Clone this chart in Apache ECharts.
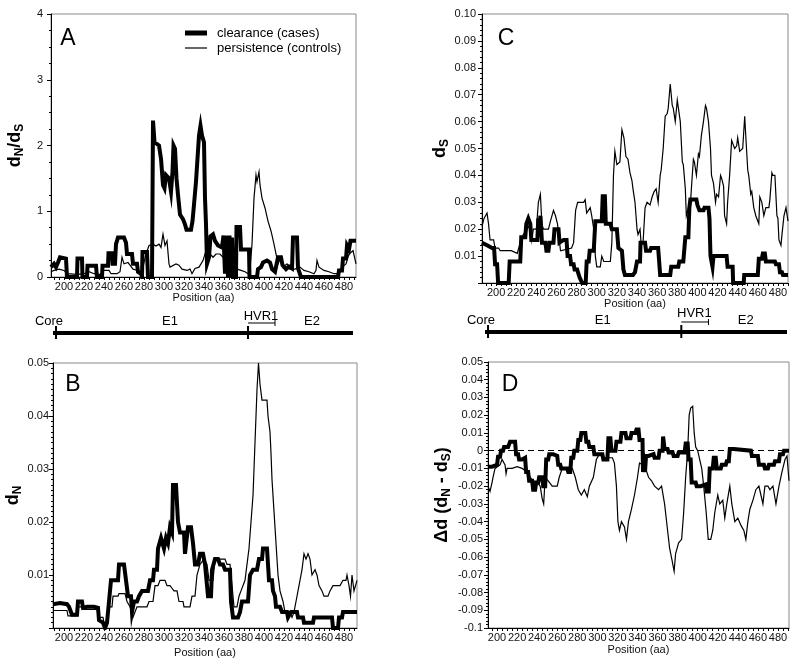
<!DOCTYPE html>
<html><head><meta charset="utf-8">
<script src="https://cdn.jsdelivr.net/npm/echarts/dist/echarts.min.js"></script>
<style>html,body{margin:0;padding:0;background:#fff}#c{width:800px;height:666px}</style>
</head><body><div id="c"></div>
<script>
// ---------- DATA (position aa, value) ----------
const aClearance = [[187,0.15],[190,0.2],[192,0.15],[194,0.22],[196,0.3],[202,0.28],[203,0],[213,0],[213.5,0.28],[218,0.28],[218.5,0],[223,0],[223.5,0.17],[232,0.17],[233,0],[238,0],[238.5,0.17],[244,0.17],[244.5,0.36],[248,0.36],[248.5,0.2],[251,0.2],[252,0.5],[254,0.6],[260,0.6],[262,0.52],[263,0.35],[268,0.35],[269,0.2],[273,0.2],[274,0.08],[277,0.05],[278,0],[278.5,0.38],[283,0.38],[284,0],[288,0],[289,2.38],[290.5,2.05],[295,2.0],[297,1.8],[299,1.4],[300.5,1.35],[302,1.55],[305,1.5],[307,1.3],[308.5,1.6],[309.5,2.0],[311,1.95],[312.5,1.5],[314,1.25],[316,0.95],[319,0.88],[321,0.8],[322.5,0.72],[327,0.72],[328.5,0.85],[330,1.1],[332,1.45],[333.5,1.8],[335,2.15],[336.5,2.3],[338,2.15],[340,2.05],[341,1.2],[342,0.8],[343,0.2],[345,0.3],[346.5,0.62],[349,0.65],[351,0.55],[354,0.48],[358,0.45],[359.5,0.63],[361,0.05],[362.5,0.63],[364,0],[365.5,0.63],[367,0],[368,0.6],[369,0],[372,0],[372.5,0.76],[376,0.76],[377,0.42],[385,0.42],[385.5,0],[393,0],[394,0.12],[397,0.15],[399,0.22],[403,0.25],[406,0.22],[408,0.12],[411,0.08],[413,0.05],[414,0.3],[417,0.3],[418.5,0.18],[422,0.12],[425,0.16],[428,0.13],[429,0.6],[433,0.6],[434,0.13],[436,0.1],[437,0],[474,0],[475,0.1],[478,0.1],[479,0.28],[482,0.28],[483,0.48],[485,0.42],[486.5,0.55],[490,0.55],[492,0.55]];
const aPersistence = [[187,0.08],[190,0.1],[195,0.12],[200,0.1],[203,0.05],[213,0.04],[220,0.05],[225,0.08],[230,0.05],[236,0.04],[240,0.1],[245,0.1],[247,0.05],[253,0.05],[256,0.08],[258,0.3],[260,0.2],[264,0.22],[266,0.18],[269,0.12],[274,0.1],[277,0.05],[279,0.15],[282,0.35],[285,0.48],[289,0.5],[292,0.47],[295,0.5],[297,0.45],[299,0.65],[301,0.48],[303,0.55],[305,0.2],[306,0.15],[308,0.18],[312,0.2],[315,0.18],[318,0.12],[323,0.1],[326,0.12],[328,0.05],[331,0.13],[335,0.15],[339,0.25],[342,0.4],[344,0.45],[346,0.35],[349,0.3],[352,0.35],[356,0.35],[359,0.3],[362,0.25],[366,0.22],[369,0.18],[373,0.12],[377,0.1],[381,0.08],[384,0.05],[386,0.1],[388,0.5],[390,1.2],[392,1.55],[393,1.45],[395,1.6],[396,1.4],[398,1.2],[401,1.05],[404,0.85],[407,0.7],[410,0.5],[412,0.35],[414,0.2],[417,0.3],[419,0.15],[423,0.2],[426,0.12],[431,0.12],[436,0.15],[440,0.1],[445,0.08],[450,0.05],[452,0.1],[453,0.25],[455,0.15],[460,0.1],[465,0.08],[470,0.05],[475,0.05],[478,0.15],[482,0.2],[485,0.35],[489,0.4],[492,0.2]];

const bClearance = [[189,0.0045],[196,0.0047],[203,0.0045],[205,0.004],[208,0.0025],[213,0.0025],[214,0.005],[218,0.005],[219,0.0038],[223,0.004],[230,0.004],[234,0.0038],[235,0.0015],[239,0.001],[241,0],[243,0.001],[245,0.005],[247,0.009],[254,0.009],[255,0.012],[260,0.012],[262,0.009],[264,0.006],[267,0.006],[268,0.003],[270,0.005],[273,0.005],[275,0.006],[278,0.007],[284,0.007],[286,0.009],[289,0.009],[290,0.011],[293,0.011],[294,0.015],[297,0.017],[300,0.015],[302,0.017],[304,0.016],[306,0.019],[308,0.018],[309,0.027],[312,0.027],[314,0.02],[316,0.018],[320,0.018],[321,0.014],[323,0.014],[324,0.019],[327,0.019],[329,0.016],[331,0.012],[334,0.012],[336,0.014],[339,0.014],[341,0.012],[343,0.012],[344,0.006],[347,0.006],[348,0.011],[351,0.013],[354,0.013],[356,0.012],[359,0.012],[361,0.011],[366,0.011],[367,0.005],[369,0.002],[374,0.002],[376,0.003],[378,0.005],[384,0.005],[386,0.01],[389,0.011],[393,0.011],[395,0.013],[398,0.013],[399,0.015],[403,0.015],[404,0.012],[405,0.009],[408,0.009],[409,0.007],[411,0.006],[412,0.004],[416,0.004],[418,0.003],[423,0.003],[424,0.002],[426,0.002],[427,0.003],[433,0.003],[434,0.002],[439,0.002],[440,0.001],[449,0.001],[450,0.002],[468,0.002],[469,0],[474,0],[475,0.002],[478,0.002],[479,0.003],[493,0.003]];
const bPersistence = [[189,0.0033],[203,0.0033],[204,0.0023],[213,0.0023],[214,0.004],[219,0.004],[220,0.0035],[234,0.0035],[235,0.002],[239,0.002],[240,0.001],[243,0.001],[245,0.004],[248,0.004],[249,0.006],[254,0.006],[255,0.0065],[261,0.0065],[263,0.005],[266,0.004],[268,0.003],[269,0.002],[271,0.002],[273,0.004],[283,0.004],[285,0.005],[289,0.005],[291,0.008],[294,0.008],[296,0.009],[301,0.009],[303,0.008],[306,0.008],[308,0.0075],[310,0.007],[313,0.007],[315,0.005],[319,0.005],[320,0.004],[326,0.004],[328,0.006],[331,0.006],[333,0.01],[336,0.012],[340,0.013],[343,0.012],[345,0.009],[349,0.009],[351,0.013],[361,0.013],[363,0.012],[366,0.012],[368,0.008],[370,0.004],[373,0.004],[375,0.006],[377,0.007],[381,0.009],[383,0.012],[385,0.015],[387,0.02],[389,0.025],[391,0.035],[393,0.045],[394.5,0.05],[396,0.046],[398,0.043],[403,0.043],[404,0.04],[406,0.037],[407,0.033],[408,0.028],[410,0.022],[412,0.016],[414,0.01],[416,0.007],[419,0.005],[421,0.003],[426,0.003],[428,0.002],[430,0.003],[432,0.005],[434,0.007],[436,0.009],[438,0.011],[440,0.014],[442,0.013],[444,0.014],[446,0.013],[448,0.01],[451,0.011],[453,0.01],[455,0.008],[458,0.007],[460,0.006],[464,0.006],[466,0.007],[469,0.008],[476,0.008],[479,0.009],[482,0.009],[483,0.01],[485,0.008],[486.5,0.006],[488,0.01],[490,0.007],[493,0.009]];

const cClearance = [[186,0.015],[191,0.014],[196,0.013],[198,0.013],[199,0.007],[201,0.007],[202,0],[212.5,0],[213.5,0.008],[224,0.008],[225,0.017],[229,0.017],[230,0.022],[232,0.024],[234,0.022],[235,0.016],[241,0.016],[242,0.024],[243,0.02],[244,0.025],[245.6,0.015],[249,0.015],[250,0.012],[252,0.012],[253,0.015],[257,0.015],[258,0.02],[262,0.02],[263,0.015],[267,0.016],[270,0.016],[271,0.01],[273.5,0.01],[274.5,0.007],[277,0.007],[278,0.005],[280.5,0.005],[283,0.002],[285.5,0],[289,0],[290,0.008],[292,0.008],[293,0.012],[297,0.012],[298.6,0.023],[305,0.023],[306,0.033],[307,0.025],[308,0.033],[309,0.022],[313.5,0.022],[315,0.02],[320,0.02],[321.5,0.013],[325,0.012],[326.5,0.005],[328,0.003],[336,0.003],[338,0.004],[340,0.008],[343,0.008],[343.5,0.015],[348,0.015],[349,0.012],[353,0.012],[354,0.013],[361,0.013],[362,0.008],[363,0.003],[373,0.003],[374,0.006],[381,0.006],[382,0.008],[386,0.008],[388,0.017],[391,0.017],[392,0.028],[393,0.031],[399,0.031],[400,0.029],[402,0.027],[406,0.027],[407,0.028],[411,0.028],[412,0.024],[413,0.01],[415,0.006],[416,0.01],[429,0.01],[430,0.006],[435,0.006],[435.5,0],[446,0],[446.5,0.003],[460,0.003],[461,0.009],[464,0.009],[465,0.011],[467,0.011],[468,0.008],[477,0.008],[478,0.007],[481,0.007],[482,0.004],[484,0.004],[485,0.003],[490,0.003]];
const cPersistence = [[186,0.021],[188,0.024],[191,0.026],[192.5,0.022],[194,0.016],[197.5,0.016],[199,0.013],[202.5,0.013],[204,0.012],[215,0.012],[221,0.011],[224,0.015],[227,0.018],[231,0.02],[234,0.022],[235.5,0.016],[237,0.02],[240,0.02],[242,0.03],[244,0.033],[245.5,0.022],[247,0.02],[252,0.02],[254,0.023],[257,0.027],[259,0.025],[261,0.022],[262.5,0.017],[264,0.012],[275,0.013],[277,0.015],[279,0.027],[281,0.03],[287,0.03],[288.5,0.031],[290,0.026],[293.5,0.028],[295,0.025],[297,0.02],[298.6,0.01],[300,0.006],[303.5,0.006],[305,0.01],[307,0.008],[313.5,0.008],[315,0.015],[316.6,0.04],[318,0.049],[320,0.044],[323,0.045],[325,0.057],[327,0.054],[329,0.047],[331,0.046],[333,0.041],[335,0.038],[336,0.035],[338,0.03],[340,0.02],[341,0.018],[343,0.02],[344,0.015],[346,0.015],[348,0.028],[350,0.03],[353,0.029],[355,0.032],[357,0.034],[359,0.035],[361,0.03],[363,0.04],[364,0.042],[366,0.05],[368,0.062],[370,0.063],[371,0.065],[373,0.074],[375,0.066],[376,0.065],[378,0.06],[380,0.068],[381,0.068],[383,0.06],[385,0.045],[386,0.044],[388,0.035],[389,0.025],[391,0.028],[393,0.029],[394,0.035],[396,0.046],[397,0.045],[399,0.04],[401,0.048],[402,0.047],[404,0.055],[406,0.06],[408,0.066],[409,0.065],[411,0.06],[413,0.05],[414,0.04],[416,0.037],[418,0.03],[419,0.033],[421,0.032],[423,0.04],[424,0.039],[426,0.036],[427,0.025],[429,0.022],[430,0.03],[432,0.04],[434,0.053],[435,0.052],[437,0.05],[439,0.051],[440,0.054],[442,0.049],[445,0.05],[447,0.062],[448,0.055],[450,0.042],[451,0.04],[453,0.033],[454,0.034],[456,0.028],[458,0.025],[461,0.022],[462,0.032],[464,0.03],[466,0.025],[468,0.028],[471,0.028],[472,0.031],[474,0.041],[475,0.04],[477,0.04],[479,0.025],[480,0.024],[481,0.016],[483,0.014],[484,0.018],[486,0.025],[488,0.028],[490,0.023]];

const dClearance = [[191,-0.009],[195,-0.009],[196,-0.008],[200,-0.008],[201,-0.0035],[203,-0.0035],[204,0],[206,0],[207,0.002],[211,0.002],[213,0.005],[218,0.005],[219,-0.002],[221,-0.002],[222,-0.005],[225,-0.005],[226,-0.004],[228,-0.004],[229,-0.012],[231,-0.012],[232,-0.017],[235,-0.017],[236,-0.022],[238,-0.022],[239,-0.018],[241,-0.018],[242,-0.015],[245,-0.015],[246,-0.02],[248,-0.02],[249,-0.005],[251,-0.005],[252,-0.002],[256,-0.002],[257,-0.003],[260,-0.003],[261,-0.008],[263,-0.008],[264,-0.01],[270,-0.01],[271,-0.012],[273,-0.012],[274,-0.004],[276,-0.004],[277,0],[280,0],[281,0.006],[283,0.006],[284,0.01],[288,0.01],[289,0.005],[291,0.005],[292,0.002],[296,0.002],[297,-0.002],[305,-0.002],[306,-0.005],[310,-0.005],[311,0.007],[313,0.007],[314,0],[318,0],[319,0.005],[323,0.005],[324,0.01],[328,0.01],[329,0.007],[333,0.007],[334,0.01],[338,0.01],[339,0.012],[341,0.012],[342,0.006],[345,0.006],[345.5,-0.012],[346.5,-0.007],[347.5,-0.012],[348.5,-0.003],[351,-0.003],[352,-0.002],[356,-0.002],[357,-0.004],[361,-0.004],[362,0],[365,0],[365.5,0.008],[366.5,0.008],[367,0.001],[370,0.001],[371,-0.001],[375,-0.001],[376,-0.003],[380,-0.003],[381,-0.001],[387,-0.001],[388,0.004],[390,0.004],[391,-0.005],[393,-0.005],[394,-0.018],[398,-0.018],[399,-0.02],[403,-0.02],[404,-0.019],[408,-0.019],[409,-0.023],[411,-0.023],[412,-0.01],[415,-0.01],[416,-0.004],[418,-0.004],[419,-0.01],[423,-0.01],[424,-0.008],[428,-0.008],[429,-0.006],[431,-0.006],[432,0.001],[436,0.001],[437,0],[453,0],[454,-0.003],[460,-0.003],[461,-0.008],[466,-0.008],[467,-0.01],[470,-0.01],[471,-0.008],[476,-0.008],[477,-0.006],[481,-0.006],[482,-0.002],[485,-0.002],[486,0],[491,0]];
const dPersistence = [[191,-0.02],[193,-0.023],[195,-0.018],[196,-0.015],[198,-0.01],[203,-0.008],[205,-0.005],[208,-0.008],[209,-0.013],[210,-0.01],[215,-0.01],[220,-0.009],[225,-0.01],[230,-0.012],[233,-0.015],[236,-0.017],[240,-0.018],[243,-0.02],[245,-0.027],[246.5,-0.03],[248,-0.015],[251,-0.017],[255,-0.02],[260,-0.02],[262,-0.015],[265,-0.01],[270,-0.01],[275,-0.01],[278,-0.015],[281,-0.022],[284,-0.025],[287,-0.022],[290,-0.026],[292,-0.02],[296,-0.015],[299,-0.005],[302,-0.002],[306,-0.004],[315,-0.004],[317,-0.007],[319,-0.02],[320.5,-0.04],[322,-0.045],[324,-0.04],[327,-0.043],[329,-0.05],[331,-0.04],[334,-0.033],[337,-0.025],[340,-0.015],[342,-0.007],[345,-0.008],[348,-0.01],[351,-0.015],[354,-0.017],[357,-0.02],[361,-0.022],[364,-0.02],[367,-0.03],[370,-0.045],[372,-0.055],[374.5,-0.062],[376.5,-0.068],[378,-0.058],[381,-0.052],[384,-0.05],[386,-0.035],[388,-0.015],[390,0],[391.5,0.02],[393,0.024],[395,0.025],[396.5,0.01],[398,0.002],[400,0],[402,-0.005],[404,-0.01],[406,-0.02],[408.5,-0.035],[410.5,-0.05],[413,-0.05],[415,-0.045],[417,-0.035],[420,-0.025],[422,-0.03],[425,-0.028],[427,-0.038],[429,-0.03],[432,-0.02],[434,-0.03],[437,-0.04],[440,-0.038],[443,-0.042],[446,-0.045],[448,-0.05],[450,-0.04],[452,-0.033],[455,-0.028],[458,-0.022],[461,-0.02],[463,-0.025],[465,-0.03],[467,-0.02],[470,-0.02],[472,-0.022],[475,-0.02],[478,-0.03],[481,-0.02],[484,-0.012],[487,-0.005],[489,-0.003],[491,-0.017]];

const xTickLabels = [200,220,240,260,280,300,320,340,360,380,400,420,440,460,480];
const xMinorTicks = []; for (let v = 185; v <= 495; v += 5) xMinorTicks.push(v);
const seriesNames = ['clearance (cases)', 'persistence (controls)'];
const genomeSpan = [189, 489];       // drawn gene segment (aa)
const regionBoundaries = [192, 384]; // Core|E1 and E1/HVR1 boundaries
const hvr1Range = [384, 411];
const regionLabels = [['Core',185],['E1',306],['HVR1',397],['E2',448]];

// ---------- CHART ----------
const FONT = '"Liberation Sans", Arial, Helvetica, sans-serif';
const chart = echarts.init(document.getElementById('c'), null, {renderer:'canvas', width:800, height:666});

const gridBoxes = [
  {left:51, top:14, width:305, height:263},   // A
  {left:482, top:14, width:306, height:269},  // C
  {left:53, top:363, width:304, height:265},  // B
  {left:488, top:362, width:301, height:266}  // D
];
const xRanges = [[187,492],[186,490],[189,493],[191,491]];
const xNameGaps = [15,15,19,16];

const rich = {
  m:{fontSize:18, fontWeight:'bold', fontFamily:FONT, color:'#000', lineHeight:20, verticalAlign:'top'},
  s:{fontSize:12, fontWeight:'bold', fontFamily:FONT, color:'#000', lineHeight:12, verticalAlign:'bottom', padding:[10,0,0,0]}
};

function xAxis(i){
  const [mn,mx] = xRanges[i];
  return {type:'value', gridIndex:i, min:mn, max:mx,
    name:'Position (aa)', nameLocation:'middle', nameGap:xNameGaps[i],
    nameTextStyle:{fontSize:11, color:'#111', fontFamily:FONT},
    axisLine:{show:true, onZero:false, lineStyle:{color:'#000', width:1}},
    axisTick:{show:true, customValues:xMinorTicks.filter(v=>v>=mn&&v<=mx), length:3, lineStyle:{color:'#000', width:1}},
    axisLabel:{customValues:xTickLabels, fontSize:11, color:'#111', fontFamily:FONT, margin:4},
    splitLine:{show:false}};
}
function yAxis(i, o){
  return Object.assign({type:'value', gridIndex:i, nameLocation:'middle', nameRotate:90,
    nameTextStyle:{rich:rich},
    axisLine:{show:true, onZero:false, lineStyle:{color:'#000', width:1}},
    axisTick:{show:true, length:4, lineStyle:{color:'#000', width:1}},
    minorTick:{show:true, length:2, lineStyle:{color:'#000', width:1}},
    splitLine:{show:false}, minorSplitLine:{show:false}}, o,
    {axisLabel:Object.assign({fontSize:11, color:'#111', fontFamily:FONT}, o.axisLabel||{}),
     minorTick:Object.assign({show:true, length:2, lineStyle:{color:'#000', width:1}}, o.minorTick||{})});
}
const fmt2 = v => Math.abs(v) < 1e-9 ? '' : v.toFixed(2);

function lineSeries(i, data, thick, extra){
  return Object.assign({type:'line', xAxisIndex:i, yAxisIndex:i, data:data, symbol:'none', showSymbol:false,
    name: thick ? seriesNames[0] : seriesNames[1],
    lineStyle:{color:'#000', width: thick ? 4 : 1.2, join:'miter'}, z: thick ? 3 : 2, animation:false}, extra||{});
}

chart.setOption({
  animation:false,
  backgroundColor:'#fff',
  grid: gridBoxes.map(g=>Object.assign({show:true, borderColor:'#8a8a8a', borderWidth:1, backgroundColor:'transparent'}, g)),
  xAxis:[xAxis(0), xAxis(1), xAxis(2), xAxis(3)],
  yAxis:[
    yAxis(0, {min:0, max:4, interval:1, name:'{m|d}{s|N}{m|/d}{s|S}', nameGap:25,
      axisLabel:{margin:8}, minorTick:{splitNumber:4}}),
    yAxis(1, {min:0, max:0.1, interval:0.01, name:'{m|d}{s|S}', nameGap:29,
      axisLabel:{margin:6, formatter:fmt2}, minorTick:{splitNumber:5}}),
    yAxis(2, {min:0, max:0.05, interval:0.01, name:'{m|d}{s|N}', nameGap:27,
      axisLabel:{margin:4, formatter:fmt2}, minorTick:{splitNumber:10}}),
    yAxis(3, {min:-0.1, max:0.05, interval:0.01, name:'{m|Δd (d}{s|N}{m| - d}{s|S}{m|)}', nameGap:35,
      axisLabel:{margin:5, formatter:v => Math.abs(v)<1e-9 ? '0' : (Math.abs(v+0.1)<1e-9 ? '-0.1' : v.toFixed(2))},
      minorTick:{splitNumber:5}})
  ],
  series:[
    lineSeries(0, aPersistence, false), lineSeries(0, aClearance, true),
    lineSeries(1, cPersistence, false), lineSeries(1, cClearance, true),
    lineSeries(2, bPersistence, false), lineSeries(2, bClearance, true),
    lineSeries(3, dPersistence, false, {markLine:{silent:true, symbol:['none','none'], label:{show:false},
      lineStyle:{color:'#000', width:1, type:[6,4]}, data:[{yAxis:0}]}}),
    lineSeries(3, dClearance, true)
  ]
});

// ---------- annotations ----------
const g = [];
const panelLetters = [['A',68,39],['C',506,39],['B',73,385],['D',510,385]];
panelLetters.forEach(([t,x,y]) => g.push({type:'text', x:x, y:y, style:{text:t, fontSize:23, fontFamily:FONT, fill:'#000', align:'center', verticalAlign:'middle'}}));

// legend
g.push({type:'line', shape:{x1:185,y1:33,x2:207,y2:33}, style:{stroke:'#000', lineWidth:5}});
g.push({type:'line', shape:{x1:185,y1:48,x2:207,y2:48}, style:{stroke:'#000', lineWidth:1.2}});
g.push({type:'text', x:217, y:33, style:{text:seriesNames[0], fontSize:13, fontFamily:FONT, fill:'#000', verticalAlign:'middle'}});
g.push({type:'text', x:217, y:48, style:{text:seriesNames[1], fontSize:13, fontFamily:FONT, fill:'#000', verticalAlign:'middle'}});

// genome diagrams under A (x axis 0) and C (x axis 1)
[[0, 333, 0], [1, 332, -2]].forEach(([ax, ly, dy]) => {
  const px = v => chart.convertToPixel({xAxisIndex:ax}, v);
  g.push({type:'line', shape:{x1:px(genomeSpan[0]), y1:ly, x2:px(genomeSpan[1]), y2:ly}, style:{stroke:'#000', lineWidth:4}});
  regionBoundaries.forEach(b => g.push({type:'line', shape:{x1:px(b), y1:ly-7, x2:px(b), y2:ly+6}, style:{stroke:'#000', lineWidth:2}}));
  const by = ly - 10;
  g.push({type:'line', shape:{x1:px(hvr1Range[0]), y1:by, x2:px(hvr1Range[1]), y2:by}, style:{stroke:'#000', lineWidth:1}});
  g.push({type:'line', shape:{x1:px(hvr1Range[1]), y1:by-3, x2:px(hvr1Range[1]), y2:by+3}, style:{stroke:'#000', lineWidth:1}});
  regionLabels.forEach(([t,v]) => g.push({type:'text', x:px(v), y: (t==='HVR1' ? ly-17 + dy : ly-12), style:{text:t, fontSize:13, fontFamily:FONT, fill:'#000', align:'center', verticalAlign:'middle'}}));
});
chart.setOption({graphic:g});
</script></body></html>
